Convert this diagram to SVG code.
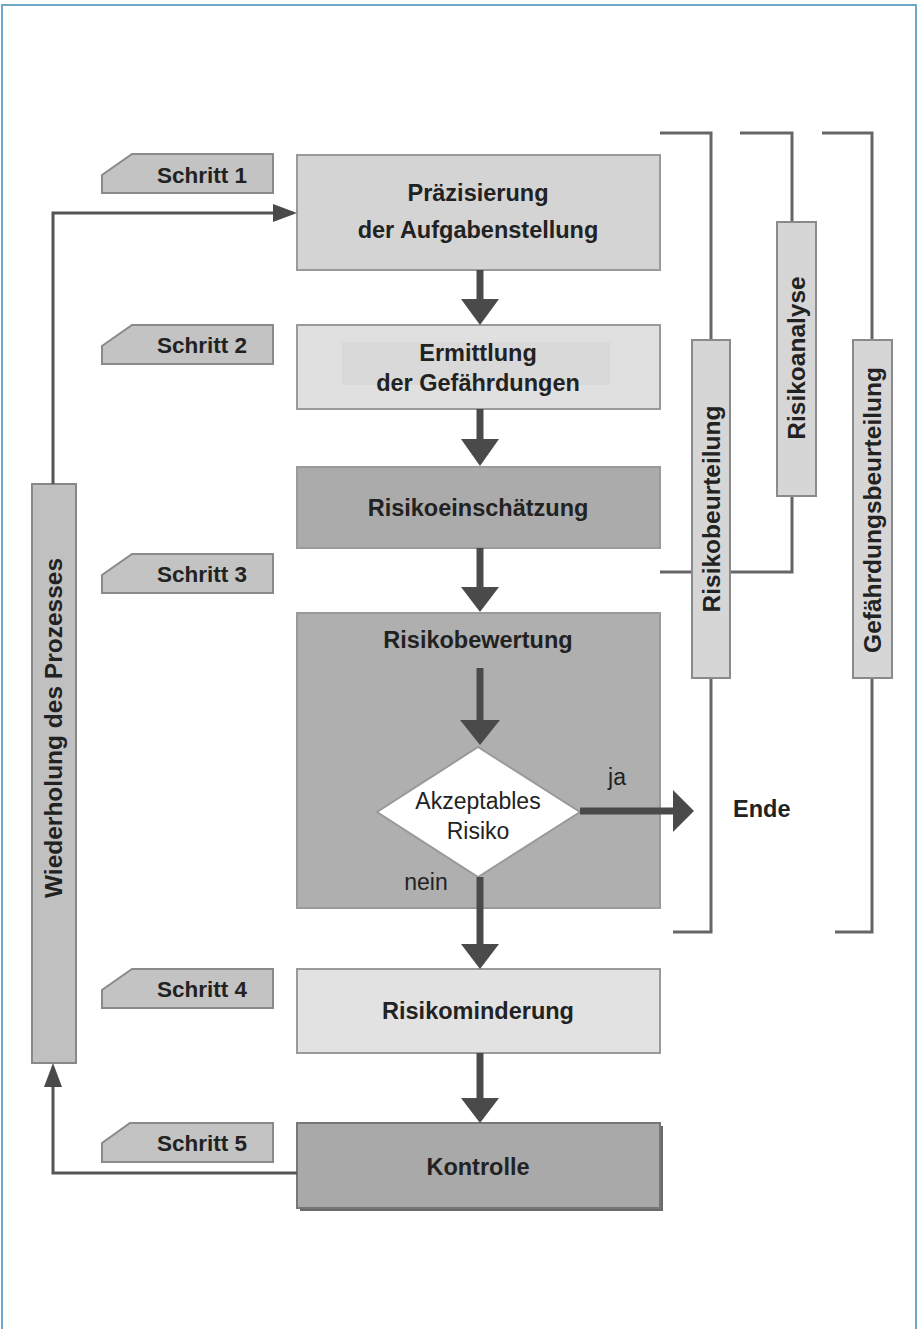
<svg xmlns="http://www.w3.org/2000/svg" width="919" height="1329" viewBox="0 0 919 1329">
<defs>
<style>
.b{font-family:"Liberation Sans",Arial,sans-serif;font-weight:bold;font-size:23.5px;fill:#222;text-anchor:middle}
.s{font-family:"Liberation Sans",Arial,sans-serif;font-weight:bold;font-size:22.5px;fill:#222;text-anchor:middle}
.r{font-family:"Liberation Sans",Arial,sans-serif;font-size:23px;fill:#222;text-anchor:middle}
.v{font-family:"Liberation Sans",Arial,sans-serif;font-weight:bold;font-size:24.5px;fill:#222;text-anchor:middle}
.tab{fill:#c3c3c3;stroke:#8a8a8a;stroke-width:2}
.box{stroke:#9a9a9a;stroke-width:2}
.lbl{fill:#d6d6d6;stroke:#8a8a8a;stroke-width:2}
.thick{stroke:#4a4a4a;stroke-width:7;fill:none}
.thin{stroke:#555;stroke-width:3;fill:none}
.br{stroke:#666;stroke-width:3;fill:none}
.head{fill:#4a4a4a}
</style>
</defs>
<rect x="0" y="0" width="919" height="1329" fill="#fff"/>
<rect x="2" y="5" width="914" height="1340" fill="none" stroke="#6fa8c8" stroke-width="2"/>

<g id="brackets">
<path class="br" d="M660,133 H711 V340 M711,678 V932 H673"/>
<path class="br" d="M740,133 H792 V222 M792,496 V572 H660"/>
<path class="br" d="M822,133 H872 V340 M872,678 V932 H835"/>
</g>

<g id="step1">
<polygon class="tab" points="132,154 273,154 273,193 102,193 102,175"/>
<text class="s" x="202" y="183">Schritt 1</text>
</g>
<g id="n1">
<rect class="box" x="297" y="155" width="363" height="115" fill="#d4d4d4"/>
<text class="b" x="478" y="201">Präzisierung</text>
<text class="b" x="478" y="238">der Aufgabenstellung</text>
</g>
<g id="step2">
<polygon class="tab" points="132,325 273,325 273,364 102,364 102,346"/>
<text class="s" x="202" y="353">Schritt 2</text>
</g>
<g id="n2">
<rect class="box" x="297" y="325" width="363" height="84" fill="#e0e0e0"/>
<rect x="342" y="342" width="268" height="43" fill="#d9d9d9"/>
<text class="b" x="478" y="361">Ermittlung</text>
<text class="b" x="478" y="391">der Gefährdungen</text>
</g>
<g id="n3">
<rect class="box" x="297" y="467" width="363" height="81" fill="#ababab"/>
<text class="b" x="478" y="516">Risikoeinschätzung</text>
</g>
<g id="step3">
<polygon class="tab" points="132,554 273,554 273,593 102,593 102,575"/>
<text class="s" x="202" y="582">Schritt 3</text>
</g>
<g id="n4">
<rect class="box" x="297" y="613" width="363" height="295" fill="#afafaf"/>
<text class="b" x="478" y="648">Risikobewertung</text>
</g>
<g id="decision">
<polygon points="478,747 580,812 478,877 377,812" fill="#fff" stroke="#999" stroke-width="2"/>
<text class="r" x="478" y="809">Akzeptables</text>
<text class="r" x="478" y="839">Risiko</text>
</g>
<g id="ende">
<text class="b" x="733" y="817" style="text-anchor:start">Ende</text>
</g>
<g id="step4">
<polygon class="tab" points="132,969 273,969 273,1008 102,1008 102,990"/>
<text class="s" x="202" y="997">Schritt 4</text>
</g>
<g id="n5">
<rect class="box" x="297" y="969" width="363" height="84" fill="#e2e2e2"/>
<text class="b" x="478" y="1019">Risikominderung</text>
</g>
<g id="step5">
<polygon class="tab" points="130,1123 273,1123 273,1162 102,1162 102,1143"/>
<text class="s" x="202" y="1151">Schritt 5</text>
</g>
<g id="n6">
<rect x="300" y="1126" width="363" height="85" fill="#6a6a6a"/>
<rect x="297" y="1123" width="363" height="85" fill="#a9a9a9" stroke="#777" stroke-width="2"/>
<text class="b" x="478" y="1175">Kontrolle</text>
</g>

<g id="wiederholung">
<rect x="32" y="484" width="44" height="579" fill="#c0c0c0" stroke="#888" stroke-width="2"/>
<text class="v" transform="translate(62,728) rotate(-90)">Wiederholung des Prozesses</text>
</g>
<g id="risikobeurteilung">
<rect class="lbl" x="692" y="340" width="38" height="338"/>
<text class="v" transform="translate(720,509) rotate(-90)">Risikobeurteilung</text>
</g>
<g id="risikoanalyse">
<rect class="lbl" x="777" y="222" width="39" height="274"/>
<text class="v" transform="translate(805,358) rotate(-90)">Risikoanalyse</text>
</g>
<g id="gefaehrdungsbeurteilung">
<rect class="lbl" x="853" y="340" width="39" height="338"/>
<text class="v" transform="translate(881,510) rotate(-90)">Gefährdungsbeurteilung</text>
</g>

<g id="connectors">
<line class="thick" x1="480" y1="270" x2="480" y2="300"/>
<polygon class="head" points="461,299 499,299 480,325"/>
<line class="thick" x1="480" y1="409" x2="480" y2="440"/>
<polygon class="head" points="461,439 499,439 480,466"/>
<line class="thick" x1="480" y1="548" x2="480" y2="588"/>
<polygon class="head" points="461,587 499,587 480,612"/>
<line class="thick" x1="480" y1="668" x2="480" y2="721"/>
<polygon class="head" points="460,720 500,720 480,745"/>
<line class="thick" x1="580" y1="811" x2="675" y2="811"/>
<polygon class="head" points="673,790 673,832 694,811"/>
<line class="thick" x1="480" y1="877" x2="480" y2="946"/>
<polygon class="head" points="461,944 499,944 480,969"/>
<line class="thick" x1="480" y1="1053" x2="480" y2="1100"/>
<polygon class="head" points="461,1098 499,1098 480,1123"/>
<path class="thin" d="M297,1173 H53 V1085"/>
<polygon class="head" points="44,1087 62,1087 53,1063"/>
<path class="thin" d="M53,484 V213 H276"/>
<polygon class="head" points="273,204 273,222 297,213"/>
<text class="r" x="617" y="785">ja</text>
<text class="r" x="426" y="890">nein</text>
</g>
</svg>
